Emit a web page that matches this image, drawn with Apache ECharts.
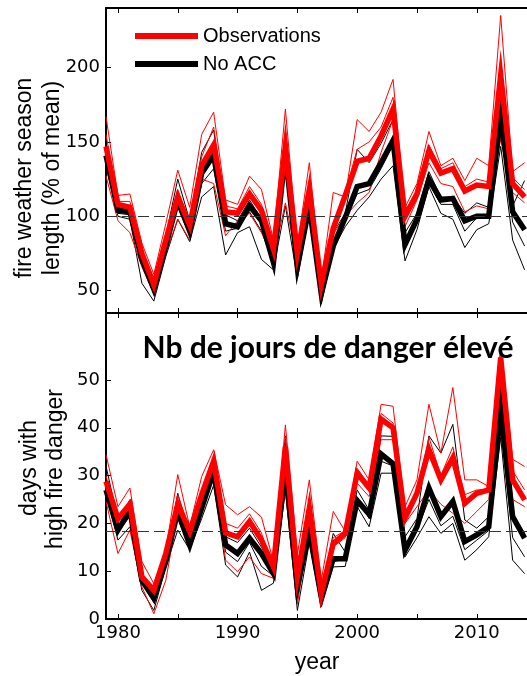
<!DOCTYPE html>
<html>
<head>
<meta charset="utf-8">
<script src="https://cdn.jsdelivr.net/npm/echarts@6/dist/echarts.min.js"></script>
<style>
html,body{margin:0;padding:0;background:#fff;}
#chart{width:527px;height:676px;}
</style>
</head>
<body>
<div id="chart"></div>
<script>
/* fire weather season length + high fire danger days, observations vs No ACC ensembles */
var years = [1979,1980,1981,1982,1983,1984,1985,1986,1987,1988,1989,1990,1991,1992,1993,1994,1995,1996,
  1997,1998,1999,2000,2001,2002,2003,2004,2005,2006,2007,2008,2009,2010,2011,2012,2013,2014];
var xTicks = [1980,1985,1990,1995,2000,2005,2010];
var xLabels = [1980,1990,2000,2010];
var topTicks = [50,100,150,200];
var botTicks = [0,10,20,30,40,50];
var topMean = 100;
var botMean = 18.3;

// top panel: season length (% of mean)
var obsTop   = [147,108,106,75,54,84,113,94,134,148,103,102,115,104,78,147,75,118,54,92,114,137,139,154,172,100,115,144,129,132,117,121,120,195,122,113];
var noAccTop = [141,104,103,71,51,80,111,90,129,141,95,93,107,97,69,143,66,107,48,80,99,120,122,136,151,81,98,125,111,112,97,100,100,169,103,91];
var obsUpTop  = [167,114,115,82,61,95,131,106,155,170,111,108,127,118,84,172,80,136,57,116,113,165,157,170,192,106,122,157,134,139,124,139,134,235,130,136];
var obsMidTop = [155,110,110,78,56,87,118,96,140,160,107,105,120,108,80,155,78,122,56,95,116,145,150,160,180,103,118,148,132,136,120,125,123,201,126,118];
var obsLoTop  = [127,97,89,66,48,75,98,84,125,122,87,97,102,89,72,109,70,104,50,88,100,109,116,143,165,93,111,136,122,120,103,107,105,152,116,109];
var accUpTop  = [147,107,107,75,53,87,125,97,143,158,101,97,111,98,75,155,73,113,55,89,102,145,136,149,165,89,102,130,113,113,102,109,106,154,107,124];
var accMidTop = [138,102,101,68,48,78,106,87,122,132,90,92,103,90,68,132,63,105,46,83,97,115,118,132,148,78,96,122,108,108,90,99,99,160,96,80];
var accLoTop  = [134,100,98,55,43,73,98,83,113,120,74,89,93,71,64,107,58,102,41,78,93,104,113,125,134,70,91,120,102,98,79,91,95,147,84,64];

// bottom panel: days with high fire danger
var obsBot   = [28.8,21,24,8.8,6,13.7,24,18.3,26,33,18,17.2,20.4,16.5,10.9,36.1,8.8,23.2,5.3,15.8,17.9,30.5,27.4,41.8,40,21.1,26.3,35.4,29.1,33.7,24.2,26.3,27,54.7,29.1,24.9];
var noAccBot = [27,18.6,22.8,8.1,4.3,12,22.5,15.5,23.2,30.9,15.5,13.7,16.9,13.7,9.5,31.6,6.7,18.3,4.6,12.6,12.6,24.8,21.9,34.5,32.5,14.4,19.3,27.4,21.4,24.6,16.2,17.6,19.3,43.8,21.4,16.9];
var obsUpBot  = [34.4,23.5,27.4,12,7.4,14.4,30.2,19.3,29.8,35.4,23.9,21.8,23.5,21.3,12,40.6,13.5,29.1,8.1,22.5,18.3,33,29.1,44.9,44.5,23.5,29.1,44.9,34.7,48.4,29.1,29.1,27.7,57.2,33.4,31.9];
var obsMidBot = [30,20,25,9.5,5.5,14,26,18.8,27,34,20,19,22,18,10,38,10,25,6,17,18.5,31.5,28,43,41,22,27,38,30,36,26,27,27,56,31,27];
var obsLoBot  = [24.6,13.7,18.6,6.7,1.1,8.1,22.1,16.5,24.9,31.2,12.3,9.9,13,9.5,8.5,27,3.1,19,2.5,15.1,17,28.4,25.6,37.5,37.5,20,23.5,27,24,22.1,20,22.5,25,48.8,25,23.5];
var accUpBot  = [32,20.7,24.9,9,5,12.5,26.3,17,25.5,32,17.2,16,19,15,10.5,38.3,8,20.5,5.5,17.9,14,27,22.8,38.3,38.2,17.2,21,38.3,34.7,40.7,20.7,19,21.4,41,22.1,17.9];
var accMidBot = [28,18,21.5,7.5,3.5,11.5,21,15,22.5,29.5,14,12,16,11,9,30,5,17.5,4,12,12.5,25.5,21,33,32,14,18.5,25,19.5,21.5,14.5,16.5,18.5,40,17,13];
var accLoBot  = [26,16.5,19.3,6,1.8,10.9,18.6,14.5,21,28,11.3,8.8,14,6,7.5,27,1.8,16,2.5,10.9,11,23.5,19.3,30.5,30.5,13,17,21.4,17.9,20,12.3,14.5,17.2,38,12.3,9.5];

var RED = "#ff0000", BLK = "#000000";
var TICKFONT = "DejaVu Sans", TXTFONT = "Liberation Sans";
var XMIN = 1979, XMAX = 2014.2;   // right side of the figure is cut off at the window edge

function pairs(vals){
  return years.map(function(y,i){ return [y, vals[i]]; });
}
function line(name, vals, color, width, xi, yi, extra){
  var s = { type:"line", name:name, data:pairs(vals), xAxisIndex:xi, yAxisIndex:yi,
    symbol:"none", silent:true, animation:false, clip:true,
    lineStyle:{ color:color, width:width, join:"miter" }, itemStyle:{color:color},
    emphasis:{disabled:true} };
  if(extra) s.markLine = extra;
  return s;
}
function meanLine(v){
  return { silent:true, symbol:"none", label:{show:false}, animation:false,
    lineStyle:{ color:"#333", width:1, type:[11,5] }, data:[{ yAxis:v }] };
}
function xAx(grid, pos, labels){
  return { type:"value", gridIndex:grid, position:pos, min:XMIN, max:XMAX,
    axisLine:{ show:true, onZero:false, lineStyle:{color:BLK, width:2} },
    axisTick:{ show:true, inside:true, length:5, customValues:xTicks, lineStyle:{color:BLK, width:1} },
    axisLabel:{ show:labels, customValues:xLabels, color:BLK, fontFamily:TICKFONT, fontSize:18, margin:5,
      formatter:function(v){ return String(v); } },
    splitLine:{show:false} };
}
function yAx(grid, min, max, ticks){
  return { type:"value", gridIndex:grid, position:"left", min:min, max:max,
    axisLine:{ show:true, lineStyle:{color:BLK, width:2} },
    axisTick:{ show:true, inside:true, length:5, customValues:ticks, lineStyle:{color:BLK, width:1} },
    axisLabel:{ customValues:ticks, color:BLK, fontFamily:TICKFONT, fontSize:18, margin:6 },
    splitLine:{show:false} };
}
function vtext(txt, x, y){
  return { type:"text", x:x, y:y, rotation:Math.PI/2, silent:true,
    style:{ text:txt, fill:BLK, font:"23px '"+TXTFONT+"'", align:"center", verticalAlign:"middle" } };
}

var ch = echarts.init(document.getElementById("chart"), null, {renderer:"canvas"});
ch.setOption({
  animation:false,
  backgroundColor:"#fff",
  grid:[
    { left:106, top:8, right:0, height:305 },
    { left:106, top:313, right:0, height:306 }
  ],
  xAxis:[ xAx(0,"bottom",false), xAx(0,"top",false), xAx(1,"top",false), xAx(1,"bottom",true) ],
  yAxis:[ yAx(0,35,240,topTicks), yAx(1,0,64,botTicks) ],
  legend:{ data:["Observations","No ACC"], orient:"vertical", left:130, top:21,
    icon:"rect", itemWidth:63, itemHeight:6, itemGap:8, selectedMode:false,
    textStyle:{ color:BLK, fontFamily:TXTFONT, fontSize:20, lineHeight:19 } },
  graphic:[
    vtext("fire weather season", 25, 178),
    vtext("length (% of mean)", 53, 178),
    vtext("days with", 30, 468),
    vtext("high fire danger", 56, 469),
    { type:"text", x:317, y:663, silent:true,
      style:{ text:"year", fill:BLK, font:"23px '"+TXTFONT+"'", align:"center", verticalAlign:"middle" } },
    { type:"text", x:328, y:348, silent:true, z:100,
      style:{ text:"Nb de jours de danger élevé", fill:BLK, font:"bold 30px Lato", align:"center", verticalAlign:"middle" } }
  ],
  series:[
    line("accUpTop", accUpTop, BLK, 1, 0, 0, meanLine(topMean)),
    line("accMidTop", accMidTop, BLK, 1, 0, 0),
    line("accLoTop", accLoTop, BLK, 1, 0, 0),
    line("obsUpTop", obsUpTop, RED, 1, 0, 0),
    line("obsMidTop", obsMidTop, RED, 1, 0, 0),
    line("obsLoTop", obsLoTop, RED, 1, 0, 0),
    line("No ACC", noAccTop, BLK, 5.5, 0, 0),
    line("Observations", obsTop, RED, 5.5, 0, 0),
    line("accUpBot", accUpBot, BLK, 1, 3, 1, meanLine(botMean)),
    line("accMidBot", accMidBot, BLK, 1, 3, 1),
    line("accLoBot", accLoBot, BLK, 1, 3, 1),
    line("obsUpBot", obsUpBot, RED, 1, 3, 1),
    line("obsMidBot", obsMidBot, RED, 1, 3, 1),
    line("obsLoBot", obsLoBot, RED, 1, 3, 1),
    line("No ACC", noAccBot, BLK, 5.5, 3, 1),
    line("Observations", obsBot, RED, 5.5, 3, 1)
  ]
});
</script>
</body>
</html>
